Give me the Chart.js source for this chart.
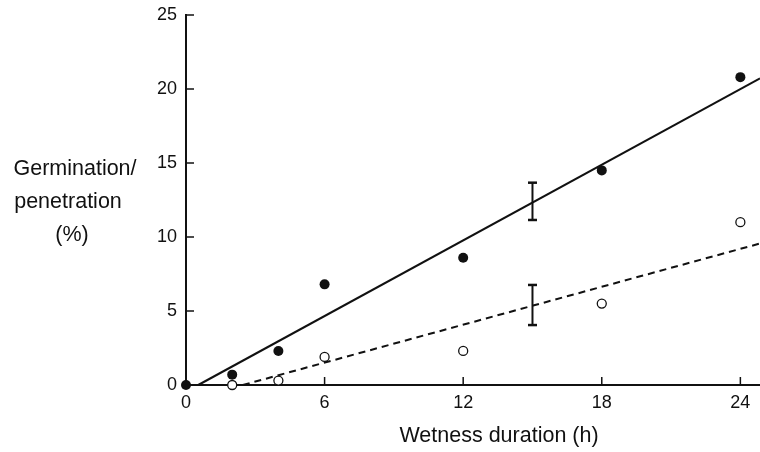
<!DOCTYPE html>
<html>
<head>
<meta charset="utf-8">
<script src="https://cdn.jsdelivr.net/npm/chart.js@4/dist/chart.umd.min.js"></script>
<style>
  html, body { margin: 0; padding: 0; background: #fff; overflow: hidden; }
  #wrap { width: 760px; height: 452px; }
</style>
</head>
<body>
<div id="wrap"><canvas id="c"></canvas></div>
<script>
// values
const hours = [0, 2, 4, 6, 12, 18, 24];
const germination = [0, 0.7, 2.3, 6.8, 8.6, 14.5, 20.8];
const penHours = [2, 4, 6, 12, 18, 24];
const penetration = [0, 0.3, 1.9, 2.3, 5.5, 11.0];

// fitted lines (end points)
const germFitX = [0.53, 24.85];
const germFitY = [0, 20.72];
const penFitX = [2.46, 24.85];
const penFitY = [0, 9.56];

// error bars at 15 h
const errHour = 15;
const germErr = [11.15, 13.67];
const penErr = [4.05, 6.76];

const xTicks = [0, 6, 12, 18, 24];
const yTicks = [0, 5, 10, 15, 20, 25];

const FONT = "'Liberation Sans', Arial, sans-serif";
const INK = "#111";

const pts = (xs, ys) => xs.map((x, i) => ({ x: x, y: ys[i] }));

// draws the inward ticks and the axis titles
const decor = {
  id: "decor",
  afterDraw(chart) {
    const ctx = chart.ctx;
    const xs = chart.scales.x, ys = chart.scales.y;
    const area = chart.chartArea;
    ctx.save();
    ctx.strokeStyle = INK;
    ctx.lineWidth = 1.5;
    xTicks.forEach((v) => {
      const px = xs.getPixelForValue(v);
      if (v === 0) return;
      ctx.beginPath();
      ctx.moveTo(px, area.bottom);
      ctx.lineTo(px, area.bottom - 8);
      ctx.stroke();
    });
    yTicks.forEach((v) => {
      const py = ys.getPixelForValue(v);
      if (v === 0) return;
      ctx.beginPath();
      ctx.moveTo(area.left, py);
      ctx.lineTo(area.left + 8, py);
      ctx.stroke();
    });
    ctx.fillStyle = INK;
    ctx.font = "21.5px " + FONT;
    ctx.textAlign = "center";
    ctx.textBaseline = "middle";
    ctx.fillText("Wetness duration (h)", 499, 436);
    ctx.fillText("Germination/", 75, 169);
    ctx.fillText("penetration", 68, 202);
    ctx.fillText("(%)", 72, 235);
    ctx.restore();
  },
};

new Chart(document.getElementById("c"), {
  type: "scatter",
  data: {
    datasets: [
      {
        data: pts(germFitX, germFitY),
        showLine: true,
        borderColor: INK,
        borderWidth: 2,
        pointRadius: 0,
        clip: false,
      },
      {
        data: pts(penFitX, penFitY),
        showLine: true,
        borderColor: INK,
        borderWidth: 2,
        borderDash: [7, 5],
        pointRadius: 0,
        clip: false,
      },
      {
        data: pts([errHour, errHour], germErr),
        showLine: true,
        borderColor: INK,
        borderWidth: 2,
        pointStyle: "line",
        pointRadius: 4.5,
        pointBorderWidth: 2.5,
      },
      {
        data: pts([errHour, errHour], penErr),
        showLine: true,
        borderColor: INK,
        borderWidth: 2,
        pointStyle: "line",
        pointRadius: 4.5,
        pointBorderWidth: 2.5,
      },
      {
        data: pts(hours, germination),
        backgroundColor: INK,
        borderColor: INK,
        pointRadius: 5,
        borderWidth: 0,
        clip: false,
      },
      {
        data: pts(penHours, penetration),
        backgroundColor: "#fff",
        borderColor: INK,
        pointRadius: 4.5,
        borderWidth: 1.3,
        clip: false,
      },
    ],
  },
  options: {
    responsive: true,
    maintainAspectRatio: false,
    animation: false,
    layout: { autoPadding: false, padding: { top: 15, left: 0, right: 0, bottom: 0 } },
    plugins: { legend: { display: false }, tooltip: { enabled: false } },
    scales: {
      x: {
        type: "linear",
        min: 0,
        max: 24.85,
        afterBuildTicks: (s) => { s.ticks = xTicks.map((v) => ({ value: v })); },
        afterFit: (s) => {
          s.height = 67;
          s.paddingLeft = 0;
          s.paddingRight = 0;
        },
        grid: { display: false, drawTicks: false },
        border: { color: INK, width: 2 },
        ticks: { color: INK, font: { family: FONT, size: 18 }, padding: 7 },
      },
      y: {
        type: "linear",
        min: 0,
        max: 25,
        afterBuildTicks: (s) => { s.ticks = yTicks.map((v) => ({ value: v })); },
        afterFit: (s) => {
          s.width = 186;
          s.paddingTop = 0;
          s.paddingBottom = 0;
        },
        grid: { display: false, drawTicks: false },
        border: { color: INK, width: 2 },
        ticks: { color: INK, font: { family: FONT, size: 18 }, padding: 9 },
      },
    },
  },
  plugins: [decor],
});
</script>
</body>
</html>
